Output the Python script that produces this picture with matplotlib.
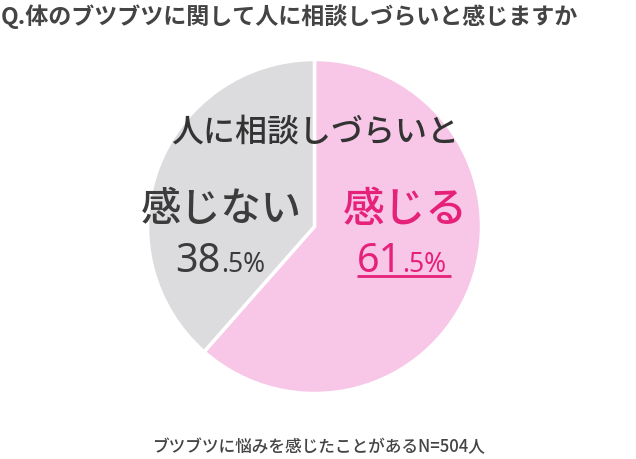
import matplotlib
matplotlib.use("Agg")
import matplotlib.pyplot as plt

plt.rcParams['font.family'] = ['Noto Sans CJK JP', 'DejaVu Sans']

title = "Q.体のブツブツに関して人に相談しづらいと感じますか"
subtitle = "人に相談しづらいと"
categories = ["感じる", "感じない"]
values = [61.5, 38.5]
colors = ["#F8C6E7", "#DCDCDF"]
text_colors = ["#E6217A", "#3C3C3C"]
note = "ブツブツに悩みを感じたことがあるN=504人"

W, H = 636, 460
fig = plt.figure(figsize=(W / 100, H / 100), dpi=100)

# pie axes
cx, cy, r = 314.5, 227.5, 167
pax = fig.add_axes([(cx - r) / W, (H - cy - r) / H, 2 * r / W, 2 * r / H])
pax.pie(values, colors=colors, startangle=90, counterclock=False,
        wedgeprops=dict(edgecolor="white", linewidth=2.5))
pax.set_xlim(-1.0, 1.0)
pax.set_ylim(-1.0, 1.0)
pax.axis("off")

# overlay axes in pixel coordinates
ax = fig.add_axes([0, 0, 1, 1])
ax.set_xlim(0, W)
ax.set_ylim(H, 0)
ax.axis("off")

ax.text(1, 17, title, fontsize=16.6, color="#444444", weight="bold",
        ha="left", va="center")
ax.text(315, 133, subtitle, fontsize=23, color="#333333", weight="medium",
        ha="center", va="center")

# labels
ax.text(221, 210, categories[1], fontsize=29, color=text_colors[1],
        weight="medium", ha="center", va="center")
ax.text(405, 210, categories[0], fontsize=30, color=text_colors[0],
        weight="medium", ha="center", va="center")

def pct(x, split_x, base_y, color):
    s = f"{x:.1f}"
    whole, frac = s.split(".")
    ax.text(split_x, base_y, whole, fontsize=28.5, color=color, family="Noto Sans",
            weight=500, ha="right", va="baseline")
    ax.text(split_x, base_y, "." + frac + "%", fontsize=19, color=color,
            family="Noto Sans", weight=500, ha="left", va="baseline")

pct(values[1], 221, 272, text_colors[1])
pct(values[0], 402, 272, text_colors[0])
ax.plot([357, 451], [277, 277], color=text_colors[0], linewidth=2,
        solid_capstyle="butt")

ax.text(318, 447, note, fontsize=12, color="#444444", weight="medium",
        ha="center", va="center")

fig.savefig("out.png", dpi=100)
